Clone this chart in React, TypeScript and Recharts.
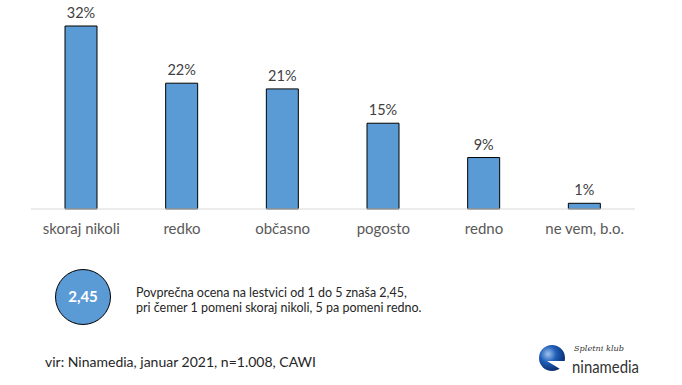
import { Bar, BarChart, LabelList, XAxis, YAxis } from "recharts";

const categories = ["skoraj nikoli", "redko", "občasno", "pogosto", "redno", "ne vem, b.o."];
const shares = [32, 22, 21, 15, 9, 1];

const data = categories.map((name, i) => ({ name, value: shares[i] }));

const font = "Lato, 'Open Sans', sans-serif";

export default function App() {
  return (
    <div
      style={{
        position: "fixed",
        left: 0,
        top: 0,
        width: 682,
        height: 385,
        background: "#fff",
        fontFamily: font,
      }}
    >
      <BarChart
        width={682}
        height={240}
        data={data}
        margin={{ top: 26, right: 47, left: 31, bottom: 0 }}
      >
        <XAxis
          dataKey="name"
          height={31}
          axisLine={{ stroke: "#d9d9d9" }}
          tickLine={false}
          tickMargin={8}
          tick={{ fontSize: 15, fill: "#595959", fontFamily: font }}
          interval={0}
        />
        <YAxis hide domain={[0, 32]} />
        <Bar
          dataKey="value"
          fill="#5b9bd5"
          stroke="#000"
          strokeWidth={1}
          barSize={32}
          isAnimationActive={false}
        >
          <LabelList
            dataKey="value"
            position="top"
            offset={8}
            formatter={(v: any) => `${v}%`}
            style={{ fontSize: 14.5, fill: "#404040", fontFamily: font }}
          />
        </Bar>
      </BarChart>

      <svg width={682} height={145} style={{ position: "absolute", left: 0, top: 240 }}>
        <defs>
          <radialGradient id="sphere" cx="0.35" cy="0.35" r="0.7">
            <stop offset="0%" stopColor="#9fc4f0" />
            <stop offset="45%" stopColor="#1f5fb8" />
            <stop offset="100%" stopColor="#0a2a6a" />
          </radialGradient>
        </defs>
        {/* povprecna ocena */}
        <circle cx={83} cy={57} r={27.5} fill="#5b9bd5" stroke="#000" strokeWidth={1} />
        <text
          x={83}
          y={62}
          textAnchor="middle"
          fill="#fff"
          fontWeight="bold"
          fontSize={15}
          fontFamily={font}
        >
          2,45
        </text>
        <text x={136} y={57} fontSize={12.5} fill="#262626" fontFamily={font}>
          Povprečna ocena na lestvici od 1 do 5 znaša 2,45,
        </text>
        <text x={136} y={72} fontSize={12.5} fill="#262626" fontFamily={font}>
          pri čemer 1 pomeni skoraj nikoli, 5 pa pomeni redno.
        </text>
        <text x={45} y={127} fontSize={14} fill="#262626" fontFamily={font}>
          vir: Ninamedia, januar 2021, n=1.008, CAWI
        </text>

        {/* logo */}
        <circle cx={552} cy={118} r={13} fill="url(#sphere)" />
        <path d="M547 121 L569 121 L565 132 Z" fill="#fff" />
        <text
          x={574}
          y={111}
          fontSize={8}
          fontStyle="italic"
          fontFamily="'DejaVu Serif', serif"
          fill="#333"
          textLength={50}
          lengthAdjust="spacingAndGlyphs"
        >
          Spletni klub
        </text>
        <text
          x={572}
          y={133}
          fontSize={17}
          fill="#333"
          fontFamily={font}
          textLength={67}
          lengthAdjust="spacingAndGlyphs"
        >
          ninamedia
        </text>
      </svg>
    </div>
  );
}
